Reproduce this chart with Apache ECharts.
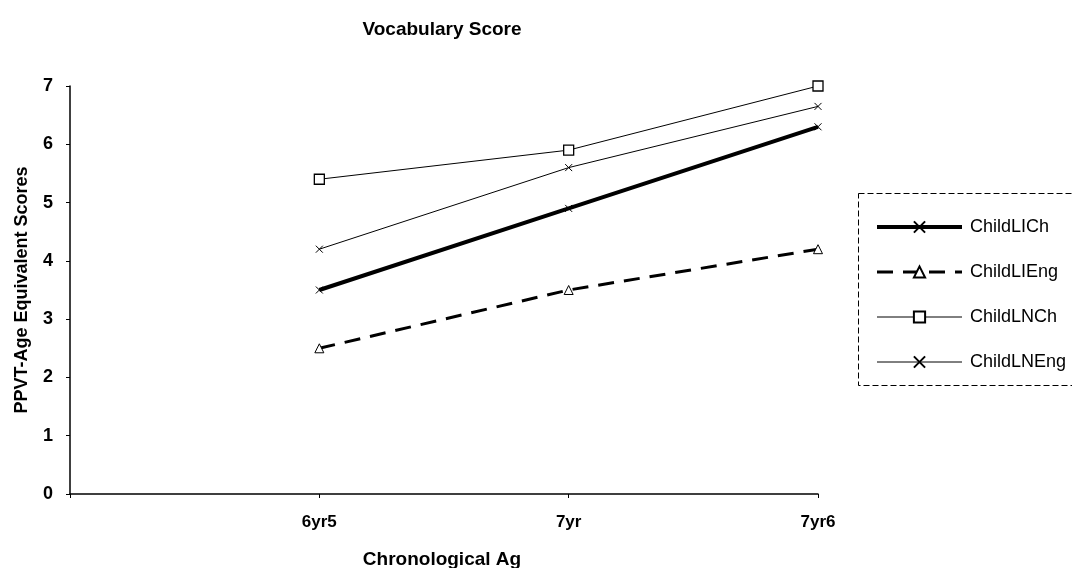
<!DOCTYPE html>
<html><head><meta charset="utf-8">
<script src="https://cdn.jsdelivr.net/npm/echarts@6/dist/echarts.min.js"></script>
<style>html,body{margin:0;padding:0;background:#fff}#c{width:1072px;height:568px}</style>
</head><body><div id="c"></div>
<script>
var categories = ['', '6yr5', '7yr', '7yr6'];
var childLICh = [null, 3.5, 4.9, 6.3];
var childLIEng = [null, 2.5, 3.5, 4.2];
var childLNCh = [null, 5.4, 5.9, 7.0];
var childLNEng = [null, 4.2, 5.6, 6.65];
var yTicks = [0, 1, 2, 3, 4, 5, 6, 7];

var FONT = 'Liberation Sans, Arial, sans-serif';
var xPath = 'path://M0,0L10,10M10,0L0,10';
var chart = echarts.init(document.getElementById('c'));
chart.setOption({
  animation: false,
  backgroundColor: '#fff',
  title: [
    {text: 'Vocabulary Score', left: 437, top: 15, textAlign: 'center',
     textStyle: {fontFamily: FONT, fontSize: 19, fontWeight: 'bold', color: '#000'}},
    {text: 'Chronological Ag', left: 437, top: 545, textAlign: 'center',
     textStyle: {fontFamily: FONT, fontSize: 19, fontWeight: 'bold', color: '#000'}}
  ],
  grid: {left: 70, right: 254, top: 86, bottom: 74},
  legend: {
    orient: 'vertical', left: 870, top: 213, itemGap: 27,
    itemWidth: 85, itemHeight: 14,
    textStyle: {fontFamily: FONT, fontSize: 18, color: '#000', padding: [0, 0, 0, 3]},
    data: [
      {name: 'ChildLICh', lineStyle: {width: 4}},
      {name: 'ChildLIEng', lineStyle: {width: 3}},
      {name: 'ChildLNCh', lineStyle: {width: 1}},
      {name: 'ChildLNEng', lineStyle: {width: 1}}
    ]
  },
  graphic: [{
    type: 'rect', shape: {x: 858.5, y: 193.5, width: 220, height: 192},
    style: {fill: 'none', stroke: '#000', lineWidth: 1, lineDash: [6, 3]}
  }],
  xAxis: {
    type: 'category', data: categories, boundaryGap: false,
    axisLine: {lineStyle: {color: '#000', width: 1.5}},
    axisTick: {show: true, length: 4, lineStyle: {color: '#000'}},
    axisLabel: {fontFamily: FONT, fontSize: 17, fontWeight: 'bold', color: '#000', margin: 20},
    splitLine: {show: false}
  },
  yAxis: {
    type: 'value', min: yTicks[0], max: yTicks[yTicks.length - 1], interval: 1,
    name: 'PPVT-Age Equivalent Scores', nameLocation: 'middle', nameGap: 39,
    nameTextStyle: {fontFamily: FONT, fontSize: 18, fontWeight: 'bold', color: '#000'},
    axisLine: {show: true, lineStyle: {color: '#000', width: 1.5}},
    axisTick: {show: true, length: 4, lineStyle: {color: '#000'}},
    axisLabel: {fontFamily: FONT, fontSize: 18, fontWeight: 'bold', color: '#000', margin: 17},
    splitLine: {show: false}
  },
  series: [
    {name: 'ChildLICh', type: 'line', data: childLICh, symbol: xPath, symbolSize: 7,
     lineStyle: {color: '#000', width: 4},
     itemStyle: {color: '#000', borderColor: '#000', borderWidth: 1}},
    {name: 'ChildLIEng', type: 'line', data: childLIEng, symbol: 'triangle', symbolSize: 9,
     lineStyle: {color: '#000', width: 3, type: [16, 10]},
     itemStyle: {color: '#fff', borderColor: '#000', borderWidth: 1}},
    {name: 'ChildLNCh', type: 'line', data: childLNCh, symbol: 'rect', symbolSize: 10,
     lineStyle: {color: '#000', width: 1},
     itemStyle: {color: '#fff', borderColor: '#000', borderWidth: 1.3}},
    {name: 'ChildLNEng', type: 'line', data: childLNEng, symbol: xPath, symbolSize: 7,
     lineStyle: {color: '#000', width: 1},
     itemStyle: {color: '#000', borderColor: '#000', borderWidth: 1}}
  ]
});
</script></body></html>
